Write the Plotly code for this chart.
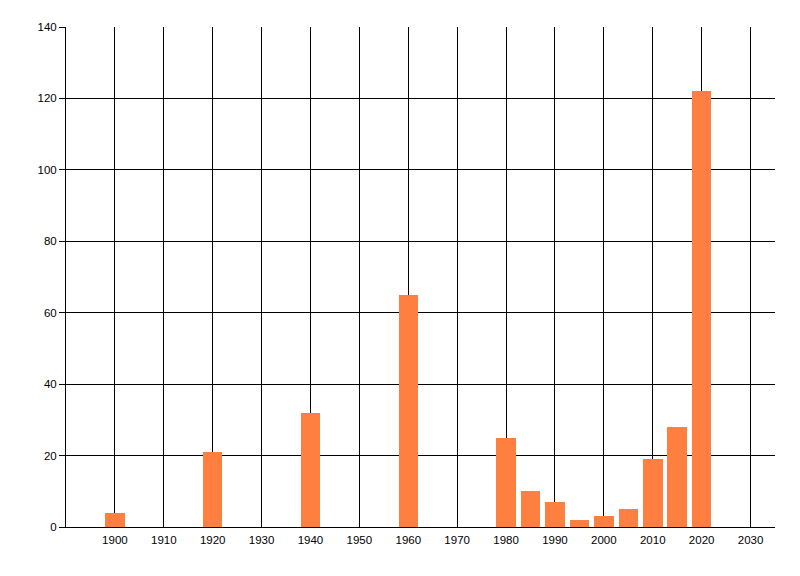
import plotly.graph_objects as go

years = [1900, 1920, 1940, 1960, 1980, 1985, 1990, 1995, 2000, 2005, 2010, 2015, 2020]
values = [4, 21, 32, 65, 25, 10, 7, 2, 3, 5, 19, 28, 122]
x_ticks = list(range(1900, 2031, 10))
y_ticks = list(range(0, 141, 20))

fig = go.Figure()
fig.add_trace(go.Bar(x=years, y=values, width=4, marker=dict(color="#FF7F40", line=dict(width=0))))

fig.update_layout(
    width=800, height=576,
    margin=dict(l=58, r=33, t=19, b=57),
    paper_bgcolor="white", plot_bgcolor="white",
    showlegend=False,
    font=dict(family="Liberation Sans, Arial, sans-serif", size=11.5, color="#000000"),
    bargap=0,
)
fig.update_xaxes(
    range=[1890, 2035], tickvals=x_ticks, ticktext=[str(t) for t in x_ticks],
    showgrid=True, gridcolor="black", gridwidth=1,
    showline=True, linecolor="black", linewidth=1,
    ticks="", zeroline=False, ticklabelstandoff=2,
)
fig.update_yaxes(
    range=[0, 140], tickvals=y_ticks,
    showgrid=True, gridcolor="black", gridwidth=1,
    showline=True, linecolor="black", linewidth=1,
    ticks="outside", ticklen=6, tickcolor="black", zeroline=False,
    ticklabelstandoff=0,
)
fig.write_html("out.html")
